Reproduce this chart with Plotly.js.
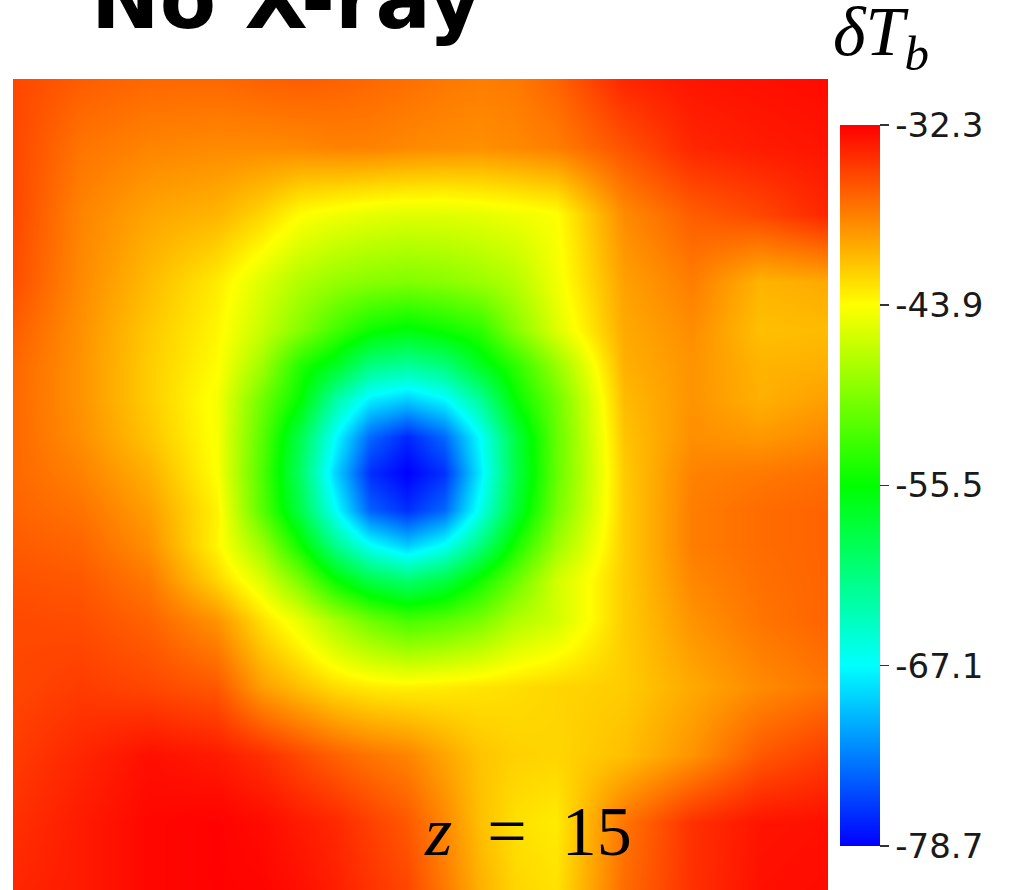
<!DOCTYPE html>
<html>
<head>
<meta charset="utf-8">
<script src="https://cdn.plot.ly/plotly-3.0.1.min.js"></script>
<style>html,body{margin:0;padding:0;background:#fff;}#chart{width:1013px;height:890px;}</style>
</head>
<body>
<div id="chart"></div>
<script>
// sample positions across the slice (percent of box side)
const xGrid = [0, 8.3, 16.7, 25, 30.6, 35.2, 39.5, 43.8, 48.3, 52.9, 57.3, 61.6, 66.6, 75, 83.3, 91.7, 100];
const yGrid = [0, 8.4, 16.6, 25, 30.9, 35.3, 39.6, 44.1, 48.6, 53.1, 57.5, 61.8, 66.7, 75, 83.4, 91.6, 100];

// δT_b values, one row per yGrid entry (top to bottom)
const row00 = [-35.5,-36.5,-37,-37,-36.7,-36.5,-36.7,-37,-37.3,-37.7,-38,-37.8,-36.8,-34,-33.2,-33,-32.8];
const row01 = [-35.5,-37.6,-38.3,-38.6,-38.6,-38.5,-38.2,-38.2,-38.5,-38.7,-38.8,-38.5,-38,-36,-34,-33.5,-33.2];
const row02 = [-35.5,-38.3,-39.8,-40.5,-42,-43.8,-44.5,-45,-45.3,-45.3,-45,-44.6,-44,-38.6,-36.5,-35.5,-34];
const row03 = [-35.8,-38.6,-40.8,-43,-45.5,-47.5,-48.7,-49.4,-49.7,-49.3,-48.5,-47.3,-44.5,-39.6,-38,-40.5,-40];
const row04 = [-36.5,-38.9,-41.4,-43.5,-46.5,-49.5,-52.5,-55,-56,-55,-53.5,-49.5,-45.5,-40,-38.7,-41,-40.8];
const row05 = [-36.9,-39,-41.6,-43.8,-48.3,-54,-57,-61.3,-62.5,-61,-57,-53.5,-48.7,-40.3,-39,-40.5,-40.3];
const row06 = [-37,-39,-41.6,-44.3,-50.5,-55.5,-63,-68,-69.5,-67.5,-62.5,-55.5,-50.5,-40.8,-39,-40.3,-39.5];
const row07 = [-37,-38.8,-41.2,-44.2,-51.5,-59,-67,-74,-77,-74,-67,-58.5,-51,-41.2,-38.8,-39.2,-38.5];
const row08 = [-37,-38.2,-40.3,-44,-52,-60,-69,-76.6,-78.7,-76.5,-68,-58.8,-51,-41.5,-38.2,-37.8,-37.3];
const row09 = [-36.8,-37.5,-39.5,-43.3,-51.6,-58.8,-66.8,-74.3,-76.6,-74,-66.2,-57.9,-50.2,-41.6,-38,-37.2,-36.8];
const row10 = [-36.4,-36.9,-38.8,-43.5,-48.5,-55,-61.8,-66.8,-69.5,-66.8,-61.2,-54.6,-48.4,-41.6,-38,-37.2,-36.8];
const row11 = [-36,-36.3,-37.8,-42,-45.5,-50,-55.2,-58.8,-60.5,-58.6,-54.8,-50.8,-46,-41.6,-38.4,-37.4,-36.8];
const row12 = [-35.6,-35.8,-36.8,-39,-42.5,-45,-48,-50.5,-52.3,-51.5,-50,-47.5,-46,-41.6,-39,-37.6,-36.8];
const row13 = [-35.5,-35,-35.5,-36.3,-39.5,-41,-42.3,-43,-43.2,-43,-42.7,-42.4,-42,-41.6,-40,-38.6,-37.6];
const row14 = [-35,-34,-33,-33.5,-34.4,-35.6,-36.7,-37.6,-38.3,-39.8,-41.2,-41.8,-42,-41,-39,-36.3,-35];
const row15 = [-34.5,-33.5,-32.6,-32.4,-32.8,-33.5,-34.1,-35.2,-36.3,-38.5,-41,-42.5,-43,-37.6,-34.5,-33.2,-33];
const row16 = [-34,-33.5,-32.6,-32.4,-32.5,-33,-33.7,-34.6,-35.5,-37.8,-40.3,-42,-42.6,-37.2,-34.5,-33,-32.8];

// colour bar
const cbMin = -78.7;
const cbMax = -32.3;
const cbTickVals = [-78.7, -67.1, -55.5, -43.9, -32.3];
const cbTickText = ['-78.7', '-67.1', '-55.5', '-43.9', '-32.3'];

const zRows = [row00,row01,row02,row03,row04,row05,row06,row07,row08,row09,row10,row11,row12,row13,row14,row15,row16];

const trace = {
  type: 'heatmap',
  x: xGrid,
  y: yGrid,
  z: zRows,
  zmin: cbMin,
  zmax: cbMax,
  zsmooth: 'best',
  colorscale: [
    [0, 'rgb(0,0,255)'],
    [0.25, 'rgb(0,255,255)'],
    [0.5, 'rgb(0,255,0)'],
    [0.75, 'rgb(255,255,0)'],
    [1, 'rgb(255,0,0)']
  ],
  hoverinfo: 'skip',
  colorbar: {
    x: 1.0147, xanchor: 'left', xpad: 0, ypad: 0,
    y: 0.4988, yanchor: 'middle',
    thickness: 40, thicknessmode: 'pixels',
    len: 721, lenmode: 'pixels',
    outlinewidth: 0,
    tickmode: 'array',
    tickvals: cbTickVals,
    ticktext: cbTickText,
    ticks: 'outside', ticklen: 9, tickwidth: 1.5, tickcolor: '#333',
    tickfont: {family: 'DejaVu Sans', size: 34, color: '#1a1a1a'}
  }
};

const layout = {
  width: 1013, height: 890,
  margin: {l: 13, r: 185, t: 79, b: 0, pad: 0},
  paper_bgcolor: '#ffffff',
  plot_bgcolor: '#ffffff',
  showlegend: false,
  xaxis: {range: [0, 100], visible: false, fixedrange: true},
  yaxis: {range: [100, 0], visible: false, fixedrange: true},
  annotations: [
    {
      text: '<b>No X-ray</b>', xref: 'paper', yref: 'paper',
      x: 0.336, y: 1.098, xanchor: 'center', yanchor: 'middle',
      showarrow: false,
      font: {family: 'DejaVu Sans', size: 82, color: '#000'}
    },
    {
      text: '<i>δT</i><sub><i>b</i></sub>', xref: 'paper', yref: 'paper',
      x: 1.004, y: 1.052, xanchor: 'left', yanchor: 'middle',
      showarrow: false,
      font: {family: 'Liberation Serif', size: 70, color: '#000'}
    },
    {
      text: '<i>z</i>\u2002=\u200215', xref: 'paper', yref: 'paper',
      x: 0.632, y: 0.072, xanchor: 'center', yanchor: 'middle',
      showarrow: false,
      font: {family: 'Liberation Serif', size: 70, color: '#000'}
    }
  ]
};

Plotly.newPlot('chart', [trace], layout, {displayModeBar: false, staticPlot: true});
</script>
</body>
</html>
